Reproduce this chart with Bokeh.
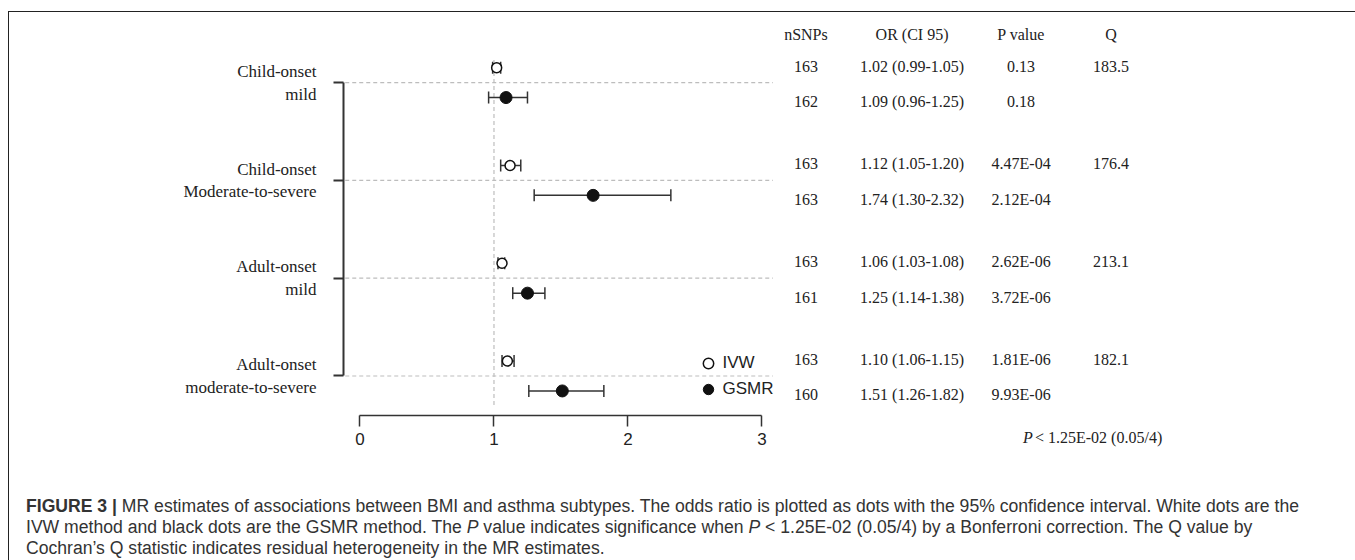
from bokeh.plotting import figure
from bokeh.models import (ColumnDataSource, Whisker, TeeHead, FixedTicker, Legend,
                          LegendItem, Div, Range1d)
from bokeh.layouts import column
from bokeh.core.properties import value
from bokeh.embed import file_html
from bokeh.resources import INLINE

# ---------------- data ----------------
subtypes = ["Child-onset\nmild", "Child-onset\nModerate-to-severe",
            "Adult-onset\nmild", "Adult-onset\nmoderate-to-severe"]
group_pos = [4, 3, 2, 1]
ivw_or = [1.02, 1.12, 1.06, 1.10]
ivw_lo = [0.99, 1.05, 1.03, 1.06]
ivw_hi = [1.05, 1.20, 1.08, 1.15]
gsmr_or = [1.09, 1.74, 1.25, 1.51]
gsmr_lo = [0.96, 1.30, 1.14, 1.26]
gsmr_hi = [1.25, 2.32, 1.38, 1.82]
ivw_nsnps = [163, 163, 163, 163]
gsmr_nsnps = [162, 163, 161, 160]
ivw_p = ["0.13", "4.47E-04", "2.62E-06", "1.81E-06"]
gsmr_p = ["0.18", "2.12E-04", "3.72E-06", "9.93E-06"]
q_values = ["183.5", "176.4", "213.1", "182.1"]
headers = ["nSNPs", "OR (CI 95)", "P value", "Q"]
x_ticks = [0, 1, 2, 3]
footnote = "< 1.25E-02 (0.05/4)"

# ---------------- layout constants ----------------
col_x = [3.328, 4.12, 4.934, 5.605]
header_y = 4.487
pt_off = 0.153
txt_off_ivw = 0.169
txt_off_gsmr = -0.194
SERIF = "Liberation Serif"
SANS = "Liberation Sans"
INK = "#222222"

p = figure(width=1345, height=460,
           x_range=Range1d(-0.123, 7.422), y_range=Range1d(0.013, 4.717),
           output_backend="svg", toolbar_location=None,
           min_border_left=334, min_border_right=0, min_border_top=0, min_border_bottom=0)
p.grid.visible = False
p.outline_line_color = None
p.background_fill_color = "white"
p.border_fill_color = "white"

# x axis
xa = p.xaxis[0]
xa.fixed_location = 0.601
xa.bounds = (0, 3)
xa.ticker = FixedTicker(ticks=x_ticks)
xa.major_tick_out = 11
xa.major_tick_in = 0
xa.minor_tick_out = 0
xa.minor_tick_in = 0
xa.axis_line_width = 1.5
xa.axis_line_color = "#333333"
xa.major_tick_line_width = 1.5
xa.major_tick_line_color = "#333333"
xa.major_label_text_font = SANS
xa.major_label_text_font_size = "17px"
xa.major_label_text_color = INK
xa.major_label_standoff = 7

# y axis (bracket with group labels)
ya = p.yaxis[0]
ya.ticker = FixedTicker(ticks=group_pos)
ya.major_label_overrides = {g: s for g, s in zip(group_pos, subtypes)}
ya.bounds = (1, 4)
ya.major_tick_out = 10
ya.major_tick_in = 0
ya.minor_tick_out = 0
ya.minor_tick_in = 0
ya.axis_line_width = 2
ya.axis_line_color = "#333333"
ya.major_tick_line_width = 2
ya.major_tick_line_color = "#333333"
ya.major_label_text_font = SERIF
ya.major_label_text_font_size = "17px"
ya.major_label_text_color = INK
ya.major_label_standoff = 17

# dashed reference lines
p.segment(x0=-0.11, y0=group_pos, x1=3.082, y1=group_pos,
          line_color="#bdbdbd", line_width=1.2, line_dash="4 3", level="underlay")
p.segment(x0=[1], y0=[0.703], x1=[1], y1=[4.231],
          line_color="#bdbdbd", line_width=1.2, line_dash="4 3", level="underlay")

# error bars
src_ivw = ColumnDataSource(dict(x=ivw_or, y=[g + pt_off for g in group_pos], lo=ivw_lo, hi=ivw_hi))
src_gsmr = ColumnDataSource(dict(x=gsmr_or, y=[g - pt_off for g in group_pos], lo=gsmr_lo, hi=gsmr_hi))
for src in (src_ivw, src_gsmr):
    p.add_layout(Whisker(base="y", lower="lo", upper="hi", dimension="width", source=src,
                         line_color="#333333", line_width=1.5,
                         upper_head=TeeHead(size=12, line_color="#333333", line_width=1.5),
                         lower_head=TeeHead(size=12, line_color="#333333", line_width=1.5)))

r_ivw = p.scatter(x="x", y="y", source=src_ivw, marker="circle", size=10,
                  fill_color="white", line_color="#111111", line_width=1.5)
r_gsmr = p.scatter(x="x", y="y", source=src_gsmr, marker="circle", size=12,
                   fill_color="#111111", line_color="#111111", line_width=1)

# table
tx, ty, tt = [], [], []
for cx, h in zip(col_x, headers):
    tx.append(cx); ty.append(header_y); tt.append(h)
for i, g in enumerate(group_pos):
    ivw_row = [str(ivw_nsnps[i]), f"{ivw_or[i]:.2f} ({ivw_lo[i]:.2f}-{ivw_hi[i]:.2f})", ivw_p[i], q_values[i]]
    gsmr_row = [str(gsmr_nsnps[i]), f"{gsmr_or[i]:.2f} ({gsmr_lo[i]:.2f}-{gsmr_hi[i]:.2f})", gsmr_p[i]]
    for cx, t in zip(col_x, ivw_row):
        tx.append(cx); ty.append(g + txt_off_ivw); tt.append(t)
    for cx, t in zip(col_x, gsmr_row):
        tx.append(cx); ty.append(g + txt_off_gsmr); tt.append(t)
p.text(x=tx, y=ty, text=tt, text_font=value(SERIF), text_font_size="16px",
       text_align="center", text_baseline="middle", text_color=INK)

# footnote  (P in italic)
p.text(x=[4.948], y=[0.366], text=["P"], text_font=value(SERIF), text_font_size="16px",
       text_font_style="italic", text_align="left", text_baseline="middle", text_color=INK)
p.text(x=[4.948], y=[0.366], text=[footnote], x_offset=12, text_font=value(SERIF),
       text_font_size="16px", text_align="left", text_baseline="middle", text_color=INK)

# legend
legend = Legend(items=[LegendItem(label="IVW", renderers=[r_ivw]),
                       LegendItem(label="GSMR", renderers=[r_gsmr])],
                location=(351.5, 70.5), orientation="vertical",
                glyph_width=26, glyph_height=26, label_height=26, spacing=0,
                label_standoff=2, padding=0, margin=0,
                label_text_font=SANS, label_text_font_size="17px", label_text_color=INK,
                background_fill_alpha=0, border_line_color=None)
p.add_layout(legend)

caption_html = (
    "<div style=\"padding:19px 0 0 12px; font-family:'Liberation Sans',Arial,sans-serif; "
    "font-size:17.6px; line-height:21px; color:#333; white-space:nowrap;\">"
    "<b>FIGURE 3 |</b> MR estimates of associations between BMI and asthma subtypes. "
    "The odds ratio is plotted as dots with the 95% confidence interval. White dots are the<br>"
    "IVW method and black dots are the GSMR method. The <i>P</i> value indicates significance "
    "when <i>P</i> &lt; 1.25E-02 (0.05/4) by a Bonferroni correction. The Q value by<br>"
    "Cochran\u2019s Q statistic indicates residual heterogeneity in the MR estimates.</div>"
)
div = Div(text=caption_html, width=1345, height=84)

layout = column(p, div, margin=(11, 0, 0, 8),
                styles={"border-top": "1.5px solid #222", "border-left": "1.5px solid #222"})

open("out.html", "w").write(file_html(layout, INLINE))
